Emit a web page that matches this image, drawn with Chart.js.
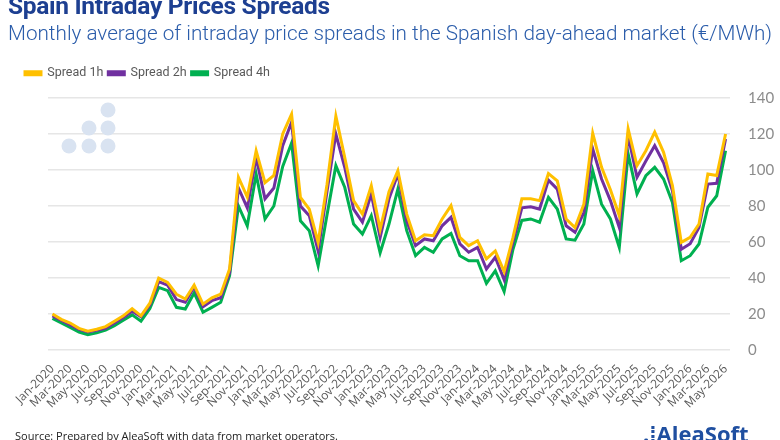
<!DOCTYPE html>
<html>
<head>
<meta charset="utf-8">
<script src="https://cdn.jsdelivr.net/npm/chart.js@4"></script>
<style>
  html, body { margin: 0; padding: 0; background: #fff; }
  #wrap { position: relative; width: 780px; height: 440px; overflow: hidden; }
  #chart { position: absolute; left: 0; top: 0; }
  .title { position: absolute; left: 8px; top: -9px; font: bold 24.5px Roboto, sans-serif; color: #1d3f91; letter-spacing: -0.3px; white-space: nowrap; }
  .subtitle { position: absolute; left: 8px; top: 21px; font: 300 20.7px Roboto, sans-serif; color: #2a5caa; white-space: nowrap; }
  .source { position: absolute; left: 15px; top: 428px; font: 11px "Open Sans", sans-serif; color: #222; white-space: nowrap; }
  .logo { position: absolute; left: 643px; top: 418px; font: bold 22px "Open Sans", sans-serif; color: #1f4fa0; white-space: nowrap; }
</style>
</head>
<body>
<div id="wrap">
  <canvas id="chart" width="780" height="440"></canvas>
  <div class="title">Spain Intraday Prices Spreads</div>
  <div class="subtitle">Monthly average of intraday price spreads in the Spanish day-ahead market (€/MWh)</div>
  <div class="source">Source: Prepared by AleaSoft with data from market operators.</div>
  <div class="logo">.⁞AleaSoft</div>
</div>
<script>
  var months = [
    'Jan-2020','Feb-2020','Mar-2020','Apr-2020','May-2020','Jun-2020','Jul-2020','Aug-2020','Sep-2020','Oct-2020','Nov-2020','Dec-2020',
    'Jan-2021','Feb-2021','Mar-2021','Apr-2021','May-2021','Jun-2021','Jul-2021','Aug-2021','Sep-2021','Oct-2021','Nov-2021','Dec-2021',
    'Jan-2022','Feb-2022','Mar-2022','Apr-2022','May-2022','Jun-2022','Jul-2022','Aug-2022','Sep-2022','Oct-2022','Nov-2022','Dec-2022',
    'Jan-2023','Feb-2023','Mar-2023','Apr-2023','May-2023','Jun-2023','Jul-2023','Aug-2023','Sep-2023','Oct-2023','Nov-2023','Dec-2023',
    'Jan-2024','Feb-2024','Mar-2024','Apr-2024','May-2024','Jun-2024','Jul-2024','Aug-2024','Sep-2024','Oct-2024','Nov-2024','Dec-2024',
    'Jan-2025','Feb-2025','Mar-2025','Apr-2025','May-2025','Jun-2025','Jul-2025','Aug-2025','Sep-2025','Oct-2025','Nov-2025','Dec-2025',
    'Jan-2026','Feb-2026','Mar-2026','Apr-2026','May-2026'
  ];

  var spread1h = [
    20, 17, 15, 12, 10.5, 11.5, 13, 16, 19, 23, 19, 26,
    40, 37.6, 31, 28.3, 36, 25.5, 29, 31, 45, 96, 85, 110.7,
    93, 97, 120, 131, 84.8, 78.3, 59.8, 92, 130, 107, 83, 75.5,
    91.3, 67, 88, 99.6, 75.5, 60.7, 64, 63.5, 72.8, 80.2, 62.6, 58,
    60.7, 50.6, 55, 43.5, 62.6, 84, 84, 83, 98, 94, 72.8, 68,
    81, 120.4, 101.5, 89, 74.6, 122.8, 102.4, 110.7, 121, 109.8, 91.3, 59.8,
    62.6, 70, 97.8, 96.9, 120
  ];
  var spread2h = [
    19, 16.5, 14, 11.5, 10, 11, 12, 15, 18, 21.5, 18.5, 25,
    38, 36, 28, 26.5, 35, 24, 27.4, 29, 43, 90, 79, 107,
    84, 90, 113.5, 126.5, 80, 74.6, 55, 88, 120, 101.5, 78.3, 71,
    86.7, 62.6, 84, 97.8, 71.8, 58, 61.7, 60.7, 69, 73.7, 59, 54.3,
    57, 45, 51.5, 39, 60, 79, 79.6, 78.3, 94.4, 89.4, 69, 65.4,
    76.5, 111.7, 95, 83, 68, 119, 96, 105, 113.5, 104, 88.5, 56,
    59, 68, 92.2, 92.6, 117.2
  ];
  var spread4h = [
    17.5, 15, 12.5, 10, 8.5, 9.5, 11, 13.5, 16.5, 19.5, 16, 23,
    34.8, 33, 23.7, 22.8, 31.7, 21, 23.7, 26.5, 41.3, 80, 69, 97.8,
    72.8, 80, 102, 115, 71.8, 66.3, 46.8, 75, 102.4, 90.4, 70, 64.4,
    74.6, 54, 70, 89.4, 66.3, 52.4, 57, 54.3, 61.7, 64.8, 52.4, 49.6,
    49.6, 37, 44, 32.5, 56, 72, 72.8, 71, 84.8, 78.3, 61.7, 61,
    70, 99.6, 81, 72.8, 57, 108.9, 86.7, 96.8, 101.5, 95, 82, 49.6,
    52.4, 58.9, 79.3, 85.7, 110.7
  ];

  var yTicks = [0, 20, 40, 60, 80, 100, 120, 140];

  // faint logo dots in the top-left corner of the plot
  var watermark = {
    id: 'watermark',
    beforeDatasetsDraw: function(chart) {
      var ctx = chart.ctx;
      var dots = [[69, 146], [89, 146], [108, 146], [89, 128], [108, 128], [108, 110]];
      ctx.save();
      ctx.fillStyle = '#d9e3f1';
      dots.forEach(function(d) {
        ctx.beginPath();
        ctx.arc(d[0], d[1], 7.5, 0, Math.PI * 2);
        ctx.fill();
      });
      ctx.restore();
    }
  };

  // fixed legend height, and legend pulled out to the page's left edge
  var legendPlace = {
    id: 'legendPlace',
    beforeInit: function(chart) {
      var fit = chart.legend.fit;
      chart.legend.fit = function() {
        fit.bind(chart.legend)();
        this.height = 36;
      };
    },
    beforeDraw: function(chart) {
      chart.legend.left = 20;
    }
  };

  function line(label, data, color) {
    return {
      label: label,
      data: data,
      borderColor: color,
      backgroundColor: color,
      borderWidth: 3,
      pointRadius: 0,
      tension: 0,
      fill: false
    };
  }

  new Chart(document.getElementById('chart'), {
    type: 'line',
    data: {
      labels: months,
      datasets: [
        line('Spread 1h', spread1h, '#ffc000'),
        line('Spread 2h', spread2h, '#7030a0'),
        line('Spread 4h', spread4h, '#00b050')
      ]
    },
    options: {
      responsive: false,
      animation: false,
      layout: { padding: { top: 62, left: 48, right: 0, bottom: 0 } },
      plugins: {
        title: { display: false },
        tooltip: { enabled: false },
        legend: {
          position: 'top',
          align: 'start',
          labels: {
            boxWidth: 16,
            boxHeight: 3,
            padding: 5,
            color: '#595959',
            font: { family: 'Roboto', size: 12.5 }
          }
        }
      },
      scales: {
        x: {
          offset: true,
          grid: { display: false },
          border: { display: false },
          afterFit: function(s) { s.height = 90; },
          ticks: {
            autoSkip: false,
            minRotation: 45,
            maxRotation: 45,
            padding: 4,
            color: '#595959',
            font: { family: 'Open Sans', size: 12 },
            callback: function(v, i) { return i % 2 === 0 ? months[i] : ''; }
          }
        },
        y: {
          position: 'right',
          min: 0,
          max: 140,
          afterFit: function(s) { s.width = 50; },
          afterBuildTicks: function(s) { s.ticks = yTicks.map(function(v) { return { value: v }; }); },
          grid: { color: '#e6e6e6', lineWidth: 1.5, drawTicks: false },
          border: { display: false },
          ticks: {
            padding: 18,
            color: '#8c8c8c',
            font: { family: 'Lato', size: 15 }
          }
        }
      }
    },
    plugins: [watermark, legendPlace]
  });
</script>
</body>
</html>
